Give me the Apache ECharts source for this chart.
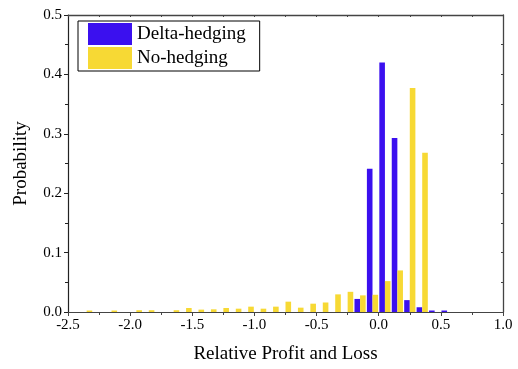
<!DOCTYPE html>
<html>
<head>
<meta charset="utf-8">
<script src="https://cdn.jsdelivr.net/npm/echarts@6/dist/echarts.min.js"></script>
<style>
  html, body { margin: 0; padding: 0; background: #fff; }
  #chart { width: 518px; height: 369px; }
</style>
</head>
<body>
<div id="chart"></div>
<script>
// Histogram bin centres (bin width 0.1)
const binCenters = [
  -2.35, -2.25, -2.15, -2.05, -1.95, -1.85, -1.75, -1.65, -1.55, -1.45,
  -1.35, -1.25, -1.15, -1.05, -0.95, -0.85, -0.75, -0.65, -0.55, -0.45,
  -0.35, -0.25, -0.15, -0.05, 0.05, 0.15, 0.25, 0.35, 0.45, 0.55
];

// Probability per bin, delta-hedged portfolio
const deltaHedging = [
  0, 0, 0, 0, 0, 0, 0, 0, 0, 0,
  0, 0, 0, 0, 0, 0, 0, 0, 0, 0,
  0, 0, 0.022, 0.241, 0.420, 0.293, 0.020, 0.008, 0.0025, 0.0025
];

// Probability per bin, unhedged portfolio
const noHedging = [
  0.0025, 0, 0.0025, 0, 0.003, 0.003, 0, 0.003, 0.0067, 0.0040,
  0.0045, 0.0067, 0.0056, 0.0090, 0.0056, 0.0090, 0.0174, 0.0073, 0.0140, 0.0160,
  0.0297, 0.0340, 0.0280, 0.0290, 0.0520, 0.0700, 0.3770, 0.2680, 0, 0
];

const seriesNames = ['Delta-hedging', 'No-hedging'];
const xTicks = { min: -2.5, max: 1.0, step: 0.5 };
const yTicks = { min: 0, max: 0.5, step: 0.1 };

const FONT = '"Liberation Serif", "DejaVu Serif", serif';
const frameColor = '#444';

const pairs = (vals) => binCenters.map((x, i) => [x, vals[i]]);

const chart = echarts.init(document.getElementById('chart'), null, { renderer: 'canvas' });

const option = {
  backgroundColor: '#ffffff',
  animation: false,
  textStyle: { fontFamily: FONT },
  grid: { left: 68, right: 15, top: 15, bottom: 56, containLabel: false },
  legend: {
    orient: 'vertical',
    left: 78,
    top: 21,
    padding: [2, 14, 2, 10],
    itemWidth: 44,
    itemHeight: 22,
    itemGap: 2,
    borderColor: '#000',
    borderWidth: 1,
    icon: 'rect',
    textStyle: { fontFamily: FONT, fontSize: 19, color: '#000' },
    data: seriesNames
  },
  xAxis: [
    {
      type: 'value',
      min: xTicks.min, max: xTicks.max, interval: xTicks.step,
      name: 'Relative Profit and Loss',
      nameLocation: 'middle',
      nameGap: 33,
      nameTextStyle: { fontFamily: FONT, fontSize: 19, color: '#000' },
      axisLine: { show: true, onZero: false, lineStyle: { color: frameColor, width: 1 } },
      axisTick: { show: true, length: 4, lineStyle: { color: frameColor } },
      minorTick: { show: true, splitNumber: 2, length: 3, lineStyle: { color: frameColor } },
      splitLine: { show: false },
      axisLabel: {
        fontFamily: FONT, fontSize: 15, color: '#000', margin: 6,
        formatter: (v) => v.toFixed(1)
      }
    },
    {
      type: 'value', position: 'top',
      min: xTicks.min, max: xTicks.max, interval: xTicks.step,
      axisLine: { show: true, onZero: false, lineStyle: { color: frameColor, width: 1.3 } },
      axisTick: { show: true, inside: true, length: 2, lineStyle: { color: frameColor } },
      minorTick: { show: true, splitNumber: 2, length: 2, lineStyle: { color: frameColor } },
      splitLine: { show: false },
      axisLabel: { show: false }
    }
  ],
  yAxis: [
    {
      type: 'value',
      min: yTicks.min, max: yTicks.max, interval: yTicks.step,
      name: 'Probability',
      nameLocation: 'middle',
      nameGap: 37,
      nameTextStyle: { fontFamily: FONT, fontSize: 19, color: '#000' },
      axisLine: { show: true, onZero: false, lineStyle: { color: '#222', width: 1.2 } },
      axisTick: { show: true, length: 4, lineStyle: { color: '#222' } },
      minorTick: { show: true, splitNumber: 2, length: 3, lineStyle: { color: '#222' } },
      splitLine: { show: false },
      axisLabel: {
        fontFamily: FONT, fontSize: 15, color: '#000', margin: 6,
        formatter: (v) => v.toFixed(1)
      }
    },
    {
      type: 'value', position: 'right',
      min: yTicks.min, max: yTicks.max, interval: yTicks.step,
      axisLine: { show: true, onZero: false, lineStyle: { color: frameColor, width: 1.3 } },
      axisTick: { show: true, inside: true, length: 2, lineStyle: { color: frameColor } },
      minorTick: { show: true, splitNumber: 2, length: 2, lineStyle: { color: frameColor } },
      splitLine: { show: false },
      axisLabel: { show: false }
    }
  ],
  series: [
    {
      name: seriesNames[0],
      type: 'bar',
      xAxisIndex: 0, yAxisIndex: 0,
      barWidth: 5.6,
      barGap: '0%',
      itemStyle: { color: '#3b10ef' },
      data: pairs(deltaHedging)
    },
    {
      name: seriesNames[1],
      type: 'bar',
      xAxisIndex: 0, yAxisIndex: 0,
      barWidth: 5.6,
      barGap: '0%',
      itemStyle: { color: '#f7d934' },
      data: pairs(noHedging)
    }
  ]
};

chart.setOption(option);
</script>
</body>
</html>
